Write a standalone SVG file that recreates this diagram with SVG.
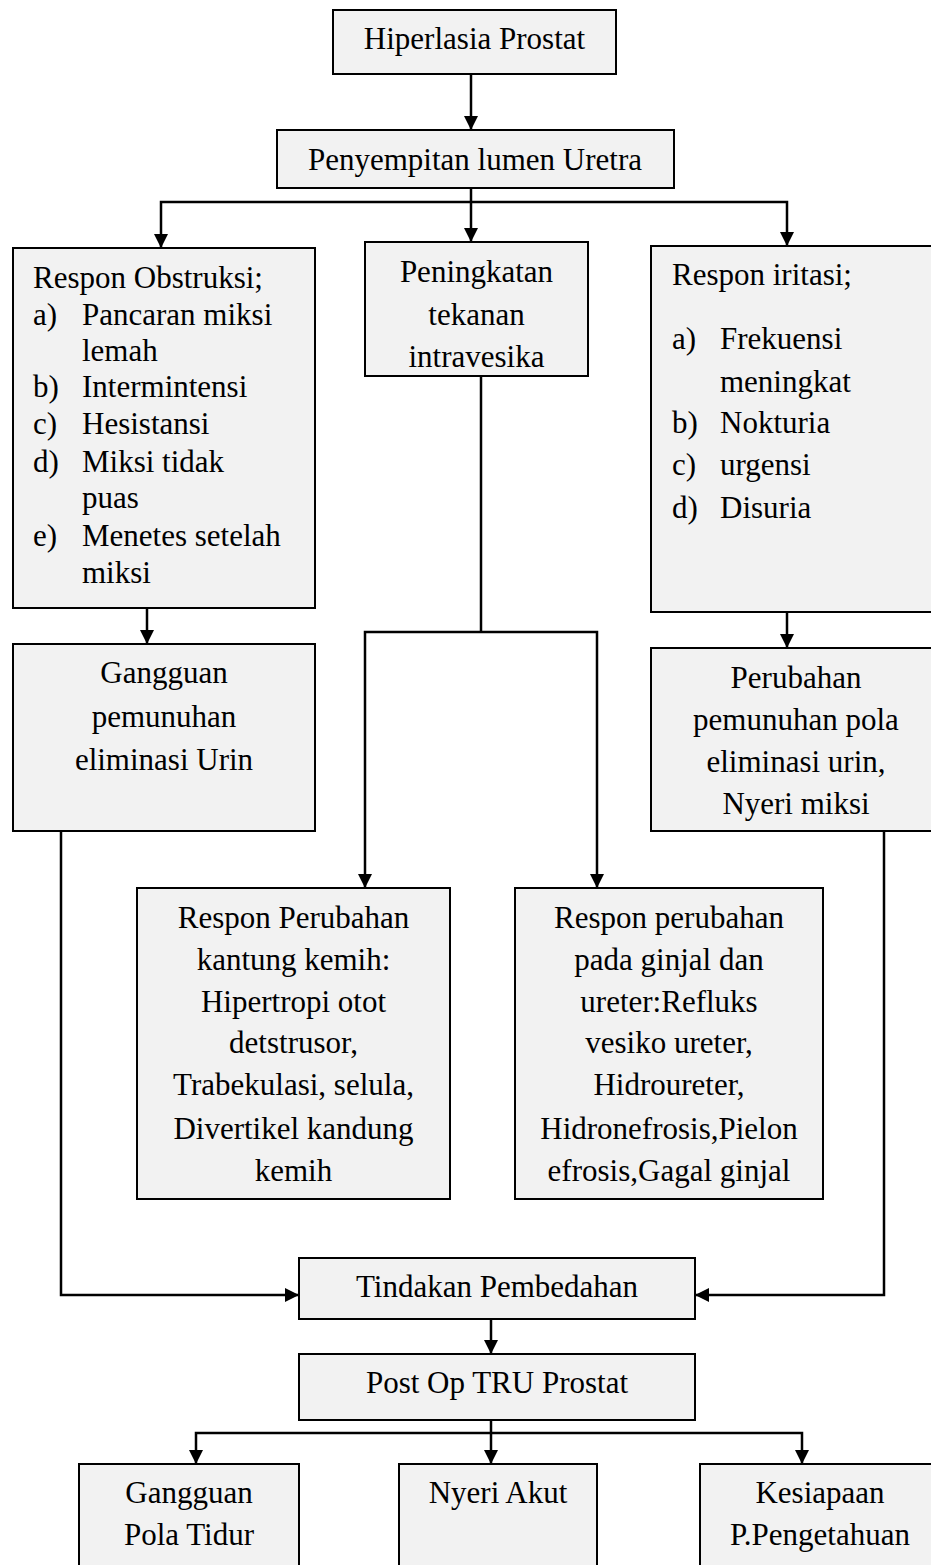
<svg xmlns="http://www.w3.org/2000/svg" width="931" height="1565" viewBox="0 0 931 1565">
<style>
.box{fill:#f2f2f2;stroke:#000;stroke-width:2}
.conn{fill:none;stroke:#000;stroke-width:2.5}
text{font-family:"Liberation Serif","Times New Roman",serif;font-size:31px;fill:#000}
.c{text-anchor:middle}
</style>
<defs>
<marker id="ah" markerUnits="userSpaceOnUse" viewBox="0 0 14 14" refX="14" refY="7" markerWidth="14" markerHeight="14" orient="auto">
<path d="M0,0 L14,7 L0,14 z" fill="#000"/>
</marker>
</defs>
<rect width="931" height="1565" fill="#fff"/>
<g id="connectors" class="conn">
<path d="M471,74 V130" marker-end="url(#ah)"/>
<path d="M471,188 V242" marker-end="url(#ah)"/>
<path d="M471,202 H161 V248" marker-end="url(#ah)"/>
<path d="M471,202 H787 V246" marker-end="url(#ah)"/>
<path d="M147,608 V644" marker-end="url(#ah)"/>
<path d="M787,612 V648" marker-end="url(#ah)"/>
<path d="M481,376 V632"/>
<path d="M481,632 H365 V888" marker-end="url(#ah)"/>
<path d="M481,632 H597 V888" marker-end="url(#ah)"/>
<path d="M61,831 V1295 H299" marker-end="url(#ah)"/>
<path d="M884,831 V1295 H695" marker-end="url(#ah)"/>
<path d="M491,1320 V1354" marker-end="url(#ah)"/>
<path d="M491,1408 V1464" marker-end="url(#ah)"/>
<path d="M491,1433 H196 V1464" marker-end="url(#ah)"/>
<path d="M491,1433 H802 V1464" marker-end="url(#ah)"/>
</g>
<g id="n-hiperlasia">
<rect class="box" x="333" y="10" width="283" height="64"/>
<text class="c" x="474.5" y="49">Hiperlasia Prostat</text>
</g>
<g id="n-penyempitan">
<rect class="box" x="277" y="130" width="397" height="58"/>
<text class="c" x="475" y="170">Penyempitan lumen Uretra</text>
</g>
<g id="n-obstruksi">
<rect class="box" x="13" y="248" width="302" height="360"/>
<text x="33" y="288">Respon Obstruksi;</text>
<text x="33" y="325">a)</text><text x="82" y="325">Pancaran miksi</text>
<text x="82" y="361">lemah</text>
<text x="33" y="397">b)</text><text x="82" y="397">Intermintensi</text>
<text x="33" y="434">c)</text><text x="82" y="434">Hesistansi</text>
<text x="33" y="472">d)</text><text x="82" y="472">Miksi tidak</text>
<text x="82" y="508">puas</text>
<text x="33" y="546">e)</text><text x="82" y="546">Menetes setelah</text>
<text x="82" y="583">miksi</text>
</g>
<g id="n-peningkatan">
<rect class="box" x="365" y="242" width="223" height="134"/>
<text class="c" x="476.5" y="282">Peningkatan</text>
<text class="c" x="476.5" y="325">tekanan</text>
<text class="c" x="476.5" y="367">intravesika</text>
</g>
<g id="n-iritasi">
<rect class="box" x="651" y="246" width="284" height="366"/>
<text x="672" y="285">Respon iritasi;</text>
<text x="672" y="349">a)</text><text x="720" y="349">Frekuensi</text>
<text x="720" y="392">meningkat</text>
<text x="672" y="433">b)</text><text x="720" y="433">Nokturia</text>
<text x="672" y="475">c)</text><text x="720" y="475">urgensi</text>
<text x="672" y="518">d)</text><text x="720" y="518">Disuria</text>
</g>
<g id="n-gangguan-eliminasi">
<rect class="box" x="13" y="644" width="302" height="187"/>
<text class="c" x="164" y="683">Gangguan</text>
<text class="c" x="164" y="727">pemunuhan</text>
<text class="c" x="164" y="770">eliminasi Urin</text>
</g>
<g id="n-perubahan-pola">
<rect class="box" x="651" y="648" width="284" height="183"/>
<text class="c" x="796" y="688">Perubahan</text>
<text class="c" x="796" y="730">pemunuhan pola</text>
<text class="c" x="796" y="772">eliminasi urin,</text>
<text class="c" x="796" y="814">Nyeri miksi</text>
</g>
<g id="n-kantung-kemih">
<rect class="box" x="137" y="888" width="313" height="311"/>
<text class="c" x="293.5" y="928">Respon Perubahan</text>
<text class="c" x="293.5" y="970">kantung kemih:</text>
<text class="c" x="293.5" y="1012">Hipertropi otot</text>
<text class="c" x="293.5" y="1053">detstrusor,</text>
<text class="c" x="293.5" y="1095">Trabekulasi, selula,</text>
<text class="c" x="293.5" y="1139">Divertikel kandung</text>
<text class="c" x="293.5" y="1181">kemih</text>
</g>
<g id="n-ginjal">
<rect class="box" x="515" y="888" width="308" height="311"/>
<text class="c" x="669" y="928">Respon perubahan</text>
<text class="c" x="669" y="970">pada ginjal dan</text>
<text class="c" x="669" y="1012">ureter:Refluks</text>
<text class="c" x="669" y="1053">vesiko ureter,</text>
<text class="c" x="669" y="1095">Hidroureter,</text>
<text class="c" x="669" y="1139">Hidronefrosis,Pielon</text>
<text class="c" x="669" y="1181">efrosis,Gagal ginjal</text>
</g>
<g id="n-tindakan">
<rect class="box" x="299" y="1258" width="396" height="61"/>
<text class="c" x="497" y="1297">Tindakan Pembedahan</text>
</g>
<g id="n-postop">
<rect class="box" x="299" y="1354" width="396" height="66"/>
<text class="c" x="497" y="1393">Post Op TRU Prostat</text>
</g>
<g id="n-pola-tidur">
<rect class="box" x="79" y="1464" width="220" height="110"/>
<text class="c" x="189" y="1503">Gangguan</text>
<text class="c" x="189" y="1545">Pola Tidur</text>
</g>
<g id="n-nyeri">
<rect class="box" x="399" y="1464" width="198" height="110"/>
<text class="c" x="498" y="1503">Nyeri Akut</text>
</g>
<g id="n-kesiapaan">
<rect class="box" x="700" y="1464" width="235" height="110"/>
<text class="c" x="820" y="1503">Kesiapaan</text>
<text class="c" x="820" y="1545">P.Pengetahuan</text>
</g>
</svg>
